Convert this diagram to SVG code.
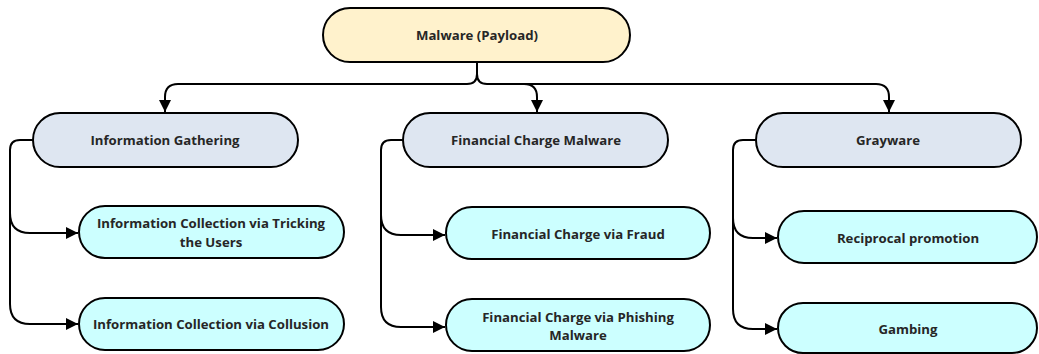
<svg xmlns="http://www.w3.org/2000/svg" width="1039" height="354" viewBox="0 0 1039 354">
<defs>
<marker id="arr" viewBox="0 0 12 12" refX="12" refY="6" markerWidth="12" markerHeight="12" orient="auto" markerUnits="userSpaceOnUse">
<path d="M0,0 L12,6 L0,12 Z" fill="#000"/>
</marker>
<style>
.node{stroke:#000;stroke-width:2}
.top{fill:#FFF2CC}
.mid{fill:#DEE6F1}
.leaf{fill:#CCFFFF}
.lbl{font-family:"Open Sans","Liberation Sans",sans-serif;font-weight:bold;font-size:13.2px;fill:#262626;text-anchor:middle;dominant-baseline:central}
.c{fill:none;stroke:#000;stroke-width:2}
</style>
</defs>
<rect width="1039" height="354" fill="#fff"/>
<g id="connectors">
<path class="c" d="M477,62 V74 Q477,84 467,84 H178 Q165,84 165,97 V112" marker-end="url(#arr)"/>
<path class="c" d="M477,74 Q477,84 487,84 H524 Q537,84 537,97 V112" marker-end="url(#arr)"/>
<path class="c" d="M487,84 H876 Q889,84 889,97 V112" marker-end="url(#arr)"/>
<path class="c" d="M33,140 H20 Q10,140 10,150 V213 Q10,233 30,233 H78" marker-end="url(#arr)"/>
<path class="c" d="M10,213 V304 Q10,324 30,324 H78" marker-end="url(#arr)"/>
<path class="c" d="M403,140 H391 Q381,140 381,150 V215 Q381,235 401,235 H445" marker-end="url(#arr)"/>
<path class="c" d="M381,215 V307 Q381,327 401,327 H445" marker-end="url(#arr)"/>
<path class="c" d="M756,140 H743 Q733,140 733,150 V218 Q733,238 753,238 H777" marker-end="url(#arr)"/>
<path class="c" d="M733,218 V309 Q733,329 753,329 H777" marker-end="url(#arr)"/>
</g>
<g id="n-malware">
<rect class="node top" x="323" y="8" width="307" height="54" rx="27"/>
<text class="lbl" x="477" y="35">Malware (Payload)</text>
</g>
<g id="n-info">
<rect class="node mid" x="33" y="113" width="265" height="54" rx="27"/>
<text class="lbl" x="165" y="140">Information Gathering</text>
</g>
<g id="n-fin">
<rect class="node mid" x="403" y="113" width="265" height="54" rx="27"/>
<text class="lbl" x="536" y="140">Financial Charge Malware</text>
</g>
<g id="n-gray">
<rect class="node mid" x="756" y="113" width="265" height="54" rx="27"/>
<text class="lbl" x="888" y="140">Grayware</text>
</g>
<g id="n-trick">
<rect class="node leaf" x="79" y="206" width="265" height="52" rx="26"/>
<text class="lbl" x="211" y="223">Information Collection via Tricking</text>
<text class="lbl" x="211" y="242">the Users</text>
</g>
<g id="n-collusion">
<rect class="node leaf" x="79" y="298" width="265" height="52" rx="26"/>
<text class="lbl" x="211" y="324">Information Collection via Collusion</text>
</g>
<g id="n-fraud">
<rect class="node leaf" x="446" y="207" width="264" height="52" rx="26"/>
<text class="lbl" x="578" y="234">Financial Charge via Fraud</text>
</g>
<g id="n-phish">
<rect class="node leaf" x="446" y="299" width="264" height="52" rx="26"/>
<text class="lbl" x="578" y="317">Financial Charge via Phishing</text>
<text class="lbl" x="578" y="335">Malware</text>
</g>
<g id="n-recip">
<rect class="node leaf" x="778" y="211" width="259" height="52" rx="26"/>
<text class="lbl" x="908" y="238">Reciprocal promotion</text>
</g>
<g id="n-gamb">
<rect class="node leaf" x="778" y="303" width="259" height="50" rx="25"/>
<text class="lbl" x="908" y="329">Gambing</text>
</g>
</svg>
